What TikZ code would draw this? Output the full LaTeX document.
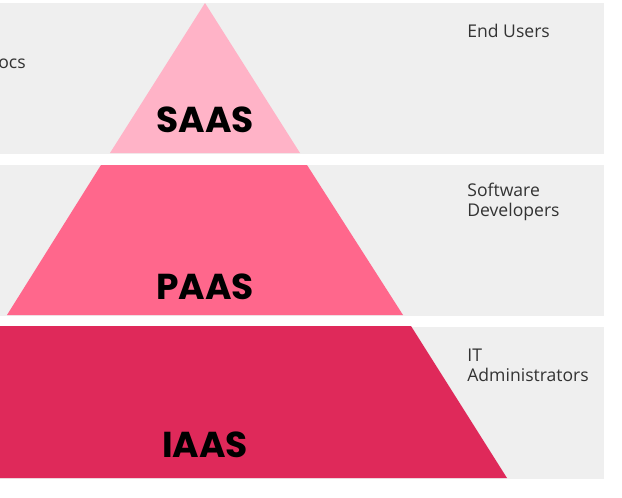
\documentclass[tikz,border=0pt]{standalone}
\usepackage{fontspec}
\setmainfont{Open Sans}
\newfontfamily\tierfont{Poppins}
\usepackage{tikz}
\definecolor{bandgray}{RGB}{239,239,239}
\definecolor{saasc}{RGB}{255,179,199}
\definecolor{paasc}{RGB}{255,103,140}
\definecolor{iaasc}{RGB}{223,41,90}
\definecolor{usertext}{RGB}{51,51,51}

\begin{document}
\begin{tikzpicture}[x=0.02cm, y=-0.02cm,
  band/.style={fill=bandgray},
  tier/.style={font=\tierfont\bfseries\fontsize{20.5}{20.5}\selectfont, text=black, inner sep=0pt},
  who/.style={font=\fontsize{10}{11.34}\selectfont, text=usertext, align=left, anchor=base west, inner sep=0pt}]
\useasboundingbox[fill=white] (0,0) rectangle (622,497);
\fill[band] (0,3) rectangle (604,154);
\fill[band] (0,165) rectangle (604,316);
\fill[band] (0,327) rectangle (604,479);
\fill[saasc] (205,3) -- (300,153) -- (110,153) -- cycle;
\fill[paasc] (101,165) -- (307,165) -- (403,315) -- (7,315) -- cycle;
\fill[iaasc] (0,326) -- (411,326) -- (507,478) -- (0,478) -- cycle;
\node[tier] (saas) at (205,120) {SAAS};
\node[tier] (paas) at (205,287) {PAAS};
\node[tier] (iaas) at (205,445) {IAAS};
\node[who] (docs) at (-2,68) {ocs};
\node[who] (users) at (467,37) {End Users};
\node[who] (devs) at (467,216) {Software\\Developers};
\node[who] (admins) at (467,381) {IT\\Administrators};
\end{tikzpicture}
\end{document}
